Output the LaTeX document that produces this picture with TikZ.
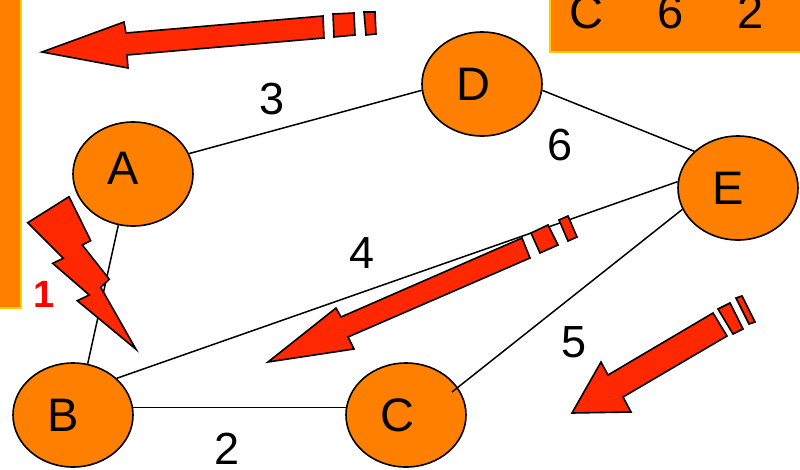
\documentclass[tikz,border=0pt]{standalone}
\usepackage{fontspec}
\setmainfont{Liberation Sans}
\usetikzlibrary{shapes.geometric}
\definecolor{nodeor}{RGB}{255,128,0}
\definecolor{boxyel}{RGB}{255,204,0}
\definecolor{arrred}{RGB}{255,40,0}
\begin{document}
\begin{tikzpicture}[x=1pt,y=-1pt,
  vert/.style={ellipse,draw=black,fill=nodeor,line width=1.6pt,inner sep=0pt,
    minimum width=120pt,minimum height=104pt,font=\fontsize{47}{50}\selectfont},
  lab/.style={inner sep=0pt,font=\fontsize{45}{48}\selectfont},
  edge/.style={draw=black,line width=1.5pt},
  arr/.style={fill=arrred,draw=black,line width=1.6pt,line join=miter},
  panel/.style={fill=nodeor,draw=boxyel,line width=1.8pt}]
\useasboundingbox (0,0) rectangle (800,469);
% orange panels
\filldraw[panel] (-5,-5) rectangle (21,308);
\filldraw[panel] (550,-5) rectangle (806,52);
\node[anchor=base west,inner sep=0pt,font=\fontsize{47}{50}\selectfont] (tbox) at (569,28) {C\hspace{54pt}6\hspace{54pt}2};
% nodes
\node[vert] (A) at (133,174) {\hspace*{-20pt}\raisebox{12pt}{A}};
\node[vert] (B) at (73,415) {\hspace*{-20pt}\raisebox{-4pt}{B}};
\node[vert] (C) at (406,415) {\hspace*{-18pt}\raisebox{-4pt}{C}};
\node[vert] (D) at (482,84) {\hspace*{-18pt}\raisebox{-2pt}{D}};
\node[vert] (E) at (738,188) {\hspace*{-20pt}\raisebox{-3pt}{E}};
% edges
\draw[edge] (A.20) -- (D.186);
\draw[edge] (D.-6) -- (E.140);
\draw[edge] (A.-106) -- (B.74);
\draw[edge] (B.40) -- (E.174);
\draw[edge] (B.7) -- (C.173);
\coordinate (ce) at (452,392);
\draw[edge] (ce) -- (E.201);
% edge labels
\node[lab] (l3) at (272,99) {3};
\node[lab] (l6) at (560,145) {6};
\node[lab] (l4) at (362,253) {4};
\node[lab] (l5) at (574,342) {5};
\node[lab] (l2) at (227,449) {2};
\node[inner sep=0pt,text=red,font=\fontsize{38}{41}\selectfont\bfseries] (l1) at (44,294) {1};
% lightning bolt
\filldraw[arr] (27.7,222.7) -- (69,196.7) -- (90.7,240.7) -- (82.3,245) -- (109.3,279.3)
  -- (100.7,287.3) -- (136,349.3) -- (77.3,300.7) -- (89.3,295) -- (52.7,263.3)
  -- (63.3,258.3) -- cycle;
% top arrow
\filldraw[arr] (42,52) -- (128,68) -- (127,55) -- (324,38) -- (323,16) -- (126,33) -- (124,22) -- cycle;
\filldraw[arr] (333,14) -- (354,13) -- (355,35) -- (334,37) -- cycle;
\filldraw[arr] (364,12) -- (375,12) -- (376,34) -- (366,35) -- cycle;
% middle arrow
\filldraw[arr] (268,362) -- (354,349) -- (348,337) -- (530,258) -- (522,238) -- (341,317) -- (336,308) -- cycle;
\filldraw[arr] (531,233) -- (548,225) -- (558,245) -- (540,253) -- cycle;
\filldraw[arr] (559,220) -- (568,216) -- (577,237) -- (568,241) -- cycle;
% bottom right arrow
\filldraw[arr] (572,413) -- (631,412) -- (623,397) -- (727,336) -- (713,313) -- (608,375) -- (601,362) -- cycle;
\filldraw[arr] (718,309) -- (730,303) -- (743,329) -- (733,334) -- cycle;
\filldraw[arr] (736,298) -- (742,296) -- (755,322) -- (749,324) -- cycle;
\end{tikzpicture}
\end{document}
